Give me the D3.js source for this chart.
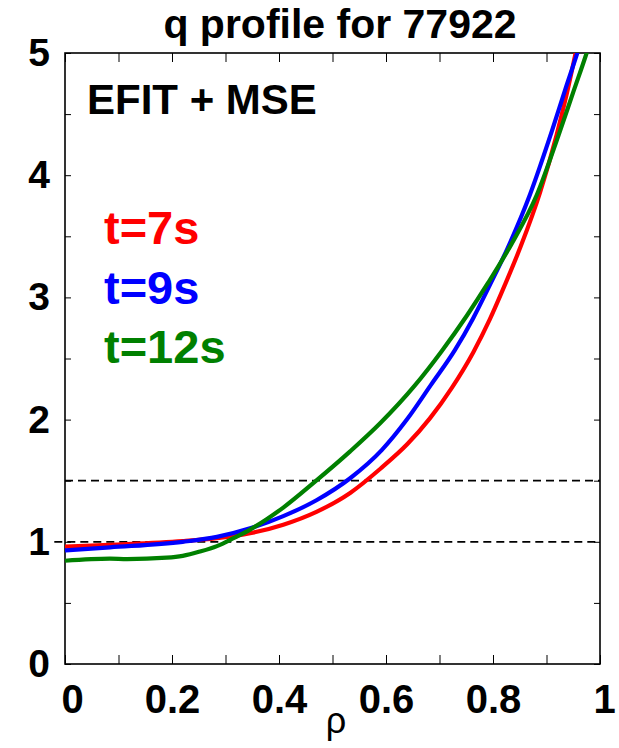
<!DOCTYPE html>
<html>
<head>
<meta charset="utf-8">
<script src="https://cdn.jsdelivr.net/npm/d3@7"></script>
<style>
  body { margin: 0; background: #fff; }
  svg text { font-family: "Liberation Sans", Arial, sans-serif; font-weight: bold; }
</style>
</head>
<body>
<div id="chart"></div>
<script>
// q profile readings, one rho/q pair list per time slice
var rho7  = [0, 0.084, 0.22, 0.284, 0.346, 0.408, 0.47, 0.533, 0.59, 0.64, 0.682, 0.723, 0.763, 0.794, 0.822, 0.852, 0.888, 0.919, 0.937, 0.953, 0.965];
var q7    = [0.96, 0.975, 1.005, 1.03, 1.07, 1.14, 1.245, 1.40, 1.60, 1.80, 2.01, 2.26, 2.55, 2.82, 3.10, 3.42, 3.86, 4.33, 4.65, 4.97, 5.22];
var rho9  = [0, 0.084, 0.22, 0.284, 0.346, 0.408, 0.47, 0.533, 0.592, 0.639, 0.685, 0.729, 0.763, 0.794, 0.827, 0.869, 0.91, 0.935, 0.959, 0.97];
var q9    = [0.93, 0.955, 1.00, 1.04, 1.11, 1.21, 1.34, 1.52, 1.75, 2.00, 2.29, 2.57, 2.83, 3.10, 3.40, 3.84, 4.36, 4.70, 5.02, 5.18];
var rho12 = [0, 0.084, 0.116, 0.19, 0.22, 0.252, 0.284, 0.315, 0.346, 0.377, 0.408, 0.464, 0.533, 0.589, 0.654, 0.704, 0.751, 0.791, 0.835, 0.882, 0.922, 0.95, 0.975, 0.985];
var q12   = [0.845, 0.862, 0.858, 0.87, 0.885, 0.92, 0.965, 1.03, 1.10, 1.185, 1.28, 1.48, 1.74, 1.97, 2.28, 2.56, 2.85, 3.12, 3.44, 3.84, 4.32, 4.68, 5.0, 5.14];

var seriesNames  = ["t=7s", "t=9s", "t=12s"];
var seriesColors = ["#ff0000", "#0000ff", "#008000"];

var xTicks = [0, 0.2, 0.4, 0.6, 0.8, 1];
var yTicks = [0, 1, 2, 3, 4, 5];
var refLevels = [1, 1.5];   // dashed q = 1 and q = 1.5 lines

var titleText = "q profile for 77922";
var noteText = "EFIT + MSE";

var margin = {top: 53, right: 19, bottom: 84, left: 65},
    totalW = 619,
    totalH = 748,
    width = totalW - margin.left - margin.right,
    height = totalH - margin.top - margin.bottom;

var svg = d3.select("#chart").append("svg")
    .attr("width", totalW)
    .attr("height", totalH);

var g = svg.append("g")
    .attr("transform", "translate(" + margin.left + "," + margin.top + ")");

var x = d3.scaleLinear().domain([0, 1]).range([0, width]);
var y = d3.scaleLinear().domain([0, 5]).range([height, 0]);

g.append("clipPath").attr("id", "plotClip")
  .append("rect").attr("x", -12).attr("y", 0).attr("width", width + 12).attr("height", height);

// minor ticks, inward, on all four sides
var xMinor = d3.range(0, 1.0001, 0.1);
var yMinor = d3.range(0, 5.0001, 0.5);

g.append("g")
    .attr("transform", "translate(0," + height + ")")
    .call(d3.axisTop(x).tickValues(xMinor).tickSize(9).tickFormat(""))
    .call(s => s.select(".domain").remove());
g.append("g")
    .call(d3.axisBottom(x).tickValues(xMinor).tickSize(9).tickFormat(""))
    .call(s => s.select(".domain").remove());
g.append("g")
    .call(d3.axisRight(y).tickValues(yMinor).tickSize(6).tickFormat(""))
    .call(s => s.select(".domain").remove());
g.append("g")
    .attr("transform", "translate(" + width + ",0)")
    .call(d3.axisLeft(y).tickValues(yMinor).tickSize(6).tickFormat(""))
    .call(s => s.select(".domain").remove());
g.selectAll(".tick line").attr("stroke", "#000").attr("stroke-width", 1);

// box
g.append("rect")
    .attr("width", width).attr("height", height)
    .attr("fill", "none").attr("stroke", "#000").attr("stroke-width", 1.6);

// tick labels
var xAx = g.append("g")
    .attr("transform", "translate(0," + height + ")")
    .call(d3.axisBottom(x).tickValues(xTicks).tickSize(0).tickPadding(21).tickFormat(d3.format("")));
xAx.select(".domain").remove();
xAx.selectAll("text")
    .attr("font-size", 40).attr("fill", "#000")
    .attr("font-family", "Liberation Sans, Arial, sans-serif")
    .attr("dx", (d) => d === 0 ? 7 : d === 1 ? 4 : 0);

var yAx = g.append("g")
    .call(d3.axisLeft(y).tickValues(yTicks).tickSize(0).tickPadding(15).tickFormat(d3.format("d")));
yAx.select(".domain").remove();
yAx.selectAll("text")
    .attr("font-size", 39).attr("fill", "#000")
    .attr("font-family", "Liberation Sans, Arial, sans-serif");

// dashed reference lines
g.selectAll(".ref")
    .data(refLevels)
  .enter().append("line")
    .attr("class", "ref")
    .attr("x1", (d) => d === 1 ? x(-0.02) : x(0))
    .attr("x2", x(1))
    .attr("y1", (d) => y(d))
    .attr("y2", (d) => y(d))
    .attr("stroke", "#000")
    .attr("stroke-width", 1.8)
    .attr("stroke-dasharray", "8,5");

// q curves
var line = d3.line()
    .x((d) => x(d[0]))
    .y((d) => y(d[1]))
    .curve(d3.curveMonotoneX);

var series = [d3.zip(rho7, q7), d3.zip(rho9, q9), d3.zip(rho12, q12)];

g.append("g").attr("clip-path", "url(#plotClip)")
  .selectAll(".qline")
    .data(series)
  .enter().append("path")
    .attr("class", "qline")
    .attr("fill", "none")
    .attr("stroke", (d, i) => seriesColors[i])
    .attr("stroke-width", 4.2)
    .attr("stroke-linejoin", "round")
    .attr("d", line);

// labels
svg.append("text")
    .attr("x", 340).attr("y", 38)
    .attr("text-anchor", "middle")
    .attr("font-size", 41)
    .text(titleText);

svg.append("text")
    .attr("x", 87).attr("y", 114)
    .attr("font-size", 42)
    .text(noteText);

svg.selectAll(".legend")
    .data(seriesNames)
  .enter().append("text")
    .attr("class", "legend")
    .attr("x", 104)
    .attr("y", (d, i) => 244 + i * 59.5)
    .attr("font-size", 47)
    .attr("fill", (d, i) => seriesColors[i])
    .text((d) => d);

svg.append("text")
    .attr("x", 336).attr("y", 733)
    .attr("text-anchor", "middle")
    .attr("font-size", 36)
    .style("font-weight", "normal")
    .text("ρ");
</script>
</body>
</html>
